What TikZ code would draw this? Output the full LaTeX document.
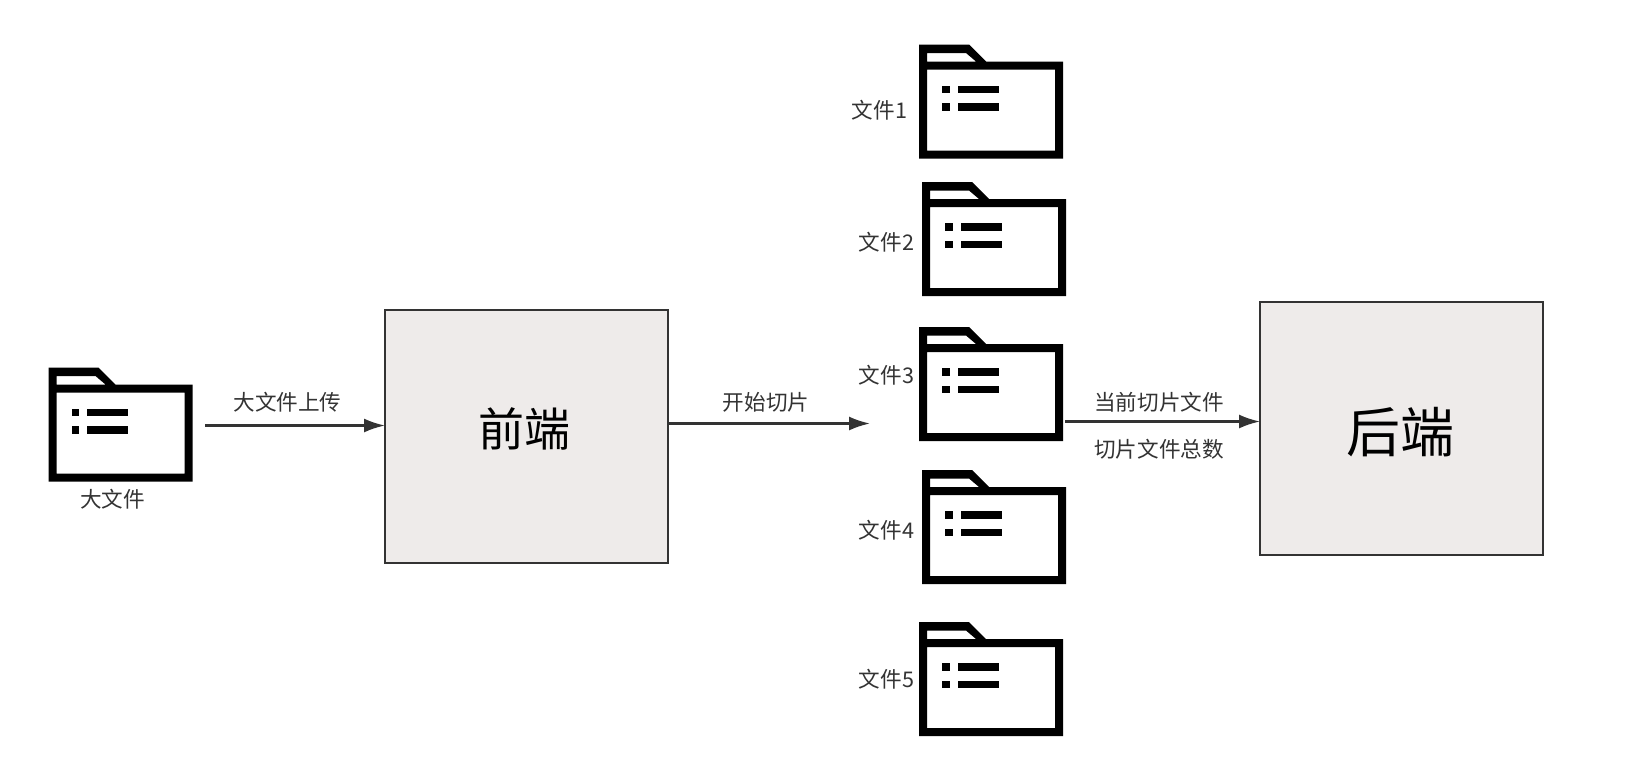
\documentclass[tikz,border=0pt]{standalone}
\usepackage{fontspec}
\setmainfont{Noto Sans CJK SC}
\usetikzlibrary{arrows.meta}
\definecolor{boxfill}{HTML}{EEEBEA}
\definecolor{inkgray}{HTML}{333333}
\tikzset{
  folder/.pic={
    \fill[black,even odd rule]
      (0,0) -- (50,0) -- (67,17) -- (144,17) -- (144,114) -- (0,114) -- cycle
      (8,8.5) -- (47,8.5) -- (57,17) -- (8,17) -- cycle
      (8,25) rectangle (136,106);
    \fill[black] (23,41) rectangle (30.7,48.7);
    \fill[black] (38.5,41) rectangle (79.5,48.7);
    \fill[black] (23,58.7) rectangle (30.7,66.3);
    \fill[black] (38.5,58.7) rectangle (79.5,66.3);
  },
  endbox/.style={draw=inkgray,line width=1pt,fill=boxfill,minimum width=141.5pt,minimum height=126.5pt,anchor=north west,inner sep=0pt,outer sep=0pt},
  flow/.style={draw=inkgray,line width=1.1pt,-{Latex[length=10.5pt,width=7pt]}},
  lbl/.style={font=\fontsize{10.8pt}{12pt}\selectfont,text=inkgray,inner sep=0pt}
}
\begin{document}
\begin{tikzpicture}[x=0.5pt,y=-0.5pt]
\useasboundingbox (0,0) rectangle (1648,762);
% source file on the left
\pic at (48.5,367.5) {folder};
\node[lbl] (bigname) at (112.5,499) {大文件};
\coordinate (bigout) at (205,425.5);

% the two end boxes
\node[endbox] (front) at (385,310) {};
\node[endbox] (back) at (1260,301.5) {};
\node[font=\fontsize{23pt}{28pt}\selectfont,inner sep=0pt] (fronttext) at (524.5,429) {前端};
\node[font=\fontsize{27pt}{32pt}\selectfont,inner sep=0pt] (backtext) at (1400,432) {后端};

% slices
\pic at (919,44.5) {folder};
\pic at (922,182) {folder};
\pic at (919,327) {folder};
\pic at (922,470) {folder};
\pic at (919,622) {folder};
\node[lbl] (name1) at (879.5,110.5) {文件1};
\node[lbl] (name2) at (886.5,242) {文件2};
\node[lbl] (name3) at (886.5,375) {文件3};
\node[lbl] (name4) at (886.5,530) {文件4};
\node[lbl] (name5) at (886.5,679) {文件5};
\coordinate (cutend) at (870,423.5);
\coordinate (sliceout) at (1065,421.5);

% flow between them
\draw[flow] (bigout) -- (bigout -| front.west);
\draw[flow] (cutend -| front.east) -- (cutend);
\draw[flow] (sliceout) -- (sliceout -| back.west);
\node[lbl] (uplabel) at (287.5,402.5) {大文件上传};
\node[lbl] (cutlabel) at (766,402.5) {开始切片};
\node[lbl] (curlabel) at (1159,402.5) {当前切片文件};
\node[lbl] (totlabel) at (1159,449) {切片文件总数};
\end{tikzpicture}
\end{document}
